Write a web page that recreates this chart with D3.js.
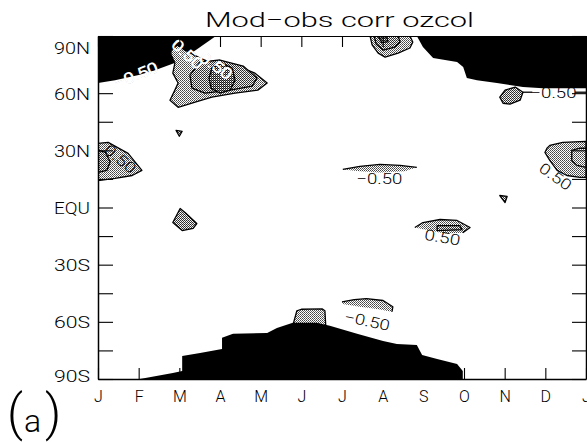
<!DOCTYPE html>
<html><head><meta charset="utf-8">
<script src="https://cdn.jsdelivr.net/npm/d3@7"></script>
<style>
body{margin:0;background:#fff}
svg{display:block}
text{font-family:Roboto,"Liberation Sans",Arial,sans-serif;font-weight:300;fill:#000}
</style>
</head><body>
<svg id="c" width="587" height="442"></svg>
<script>
// ---------- data ----------
const months = ["J","F","M","A","M","J","J","A","S","O","N","D","J"];
const monthTicks = [0,1,2,3,4,5,6,7,8,9,10,11,12];
const latMajor = [90,60,30,0,-30,-60,-90];
const latLabels = ["90N","60N","30N","EQU","30S","60S","90S"];
const latMinor = [75,45,15,-15,-45,-75];
const titleText = "Mod\u2212obs corr ozcol";
const panelText = ["(","a",")"];

// missing-data masks [month, latitude]
const maskNorthWest = [[0,90],[0,65.3],[0.42,66.8],[1.0,69.5],[1.4,72],[1.9,76],[2.4,82.5],[2.9,90]];
const maskNorthEast = [[7.84,90],[7.99,84.2],[8.24,78.4],[8.83,76.3],[8.98,73.7],[9.07,67.9],[9.32,66.8],[9.81,65.3],[10.45,63.2],[10.94,62.6],[12,62.6],[12,90]];
const maskSouth = [[1.03,-90],[1.84,-86.8],[2.07,-85.8],[2.07,-77.9],[2.51,-76.3],[3.05,-74.2],[3.05,-68.4],[3.32,-66.3],[4.16,-65.8],[4.40,-63.2],[4.79,-60.5],[5.38,-60.5],[5.70,-62.1],[6.37,-66.3],[7.01,-70],[7.35,-71.6],[7.84,-72.1],[7.97,-77.4],[8.34,-79.5],[8.83,-82.1],[8.97,-85.8],[8.97,-90]];

// correlation contour regions (|r| >= 0.5, then higher levels)
const marchNorthOuter = [[1.80,82.5],[1.94,85.3],[2.14,82.6],[2.51,78.4],[2.80,75.8],[3.37,74.7],[3.86,70.5],[4.16,65.3],[3.93,61.6],[3.37,60],[2.80,57.9],[2.39,55.3],[1.97,52.6],[1.77,56.3],[1.89,61.6],[1.97,65.3],[1.84,70.5],[1.89,75.8],[1.79,80.5]];
const marchNorthMid = [[2.51,76.3],[3.00,77.4],[3.57,74.2],[3.91,67.9],[3.79,63.7],[3.25,61.6],[2.63,60],[2.31,62.6],[2.26,69.5]];
const marchNorthInner = [[2.80,73.2],[3.05,75.8],[3.30,73.2],[3.37,66.8],[3.25,61.6],[3.00,60],[2.78,62.6],[2.73,67.9]];
const julyPoleOuter = [[6.69,90],[6.74,85.3],[6.89,81],[7.06,78.9],[7.38,81],[7.67,83.7],[7.74,86.8],[7.67,90]];
const julyPoleMid = [[6.79,90],[6.84,85.8],[7.01,82.6],[7.3,84.2],[7.43,86.8],[7.38,90]];
const julyPoleInner = [[6.9,89.5],[6.98,86.5],[7.13,87],[7.1,89.5]];
const novNorth = [[9.88,57.9],[10.01,61.6],[10.26,63.2],[10.45,60.5],[10.38,56.3],[10.13,54.2],[9.96,54.7]];
const janSubtropOuter = [[0,33.7],[0.25,34.2],[0.74,28.4],[1.08,19.5],[0.84,16.8],[0.42,15.3],[0.05,14.2],[0,14.2]];
const janSubtropInner = [[0,30],[0.18,29],[0.3,24],[0.22,19.5],[0,18.4]];
const decSubtropOuter = [[11.04,31.1],[11.11,32.6],[11.43,34.2],[12,34.7],[12,15.8],[11.85,15.8],[11.53,16.8],[11.29,19.5],[11.11,24.7],[10.99,28.9]];
const decSubtropInner = [[11.65,30],[11.85,31.1],[12,31.1],[12,21.1],[11.78,22.1],[11.65,24.7]];
const julySubtrop = [[6.02,20],[6.44,21.6],[6.93,22.6],[7.43,22.1],[7.84,21.1],[7.55,19],[6.93,18.4],[6.44,19]];
const septTropOuter = [[7.79,-10.5],[7.99,-7.9],[8.41,-6.3],[8.83,-6.8],[9.15,-10.5],[8.97,-13.2],[8.53,-13.7],[8.16,-12.1]];
const septTropInner = [[8.34,-9.5],[8.9,-9.5],[8.95,-11.6],[8.34,-12.1]];
const marchTrop = [[1.84,-7.9],[2.02,-0.5],[2.14,-2.6],[2.43,-8.4],[2.34,-11],[2.07,-12.1]];
const marchSmall = [[1.92,40.5],[2.07,40],[2.0,37.4]];
const novSmall = [[9.88,6.3],[10.06,5.8],[10.01,2.6]];
const juneSouth = [[4.79,-62],[4.89,-54.2],[5.0,-53.4],[5.51,-53.2],[5.58,-54.2],[5.6,-62]];
const augSouth = [[6.0,-49.5],[6.3,-48.3],[6.6,-47.8],[7.01,-48.8],[7.25,-52.1],[7.23,-54.7],[6.86,-53.2],[6.44,-52.1],[6.02,-50.6]];

// contour labels: text, month, latitude, angle
const labelText  = ["\u22120.50","0.50","0.50","\u22120.50","0.50","0.50","\u22120.50","0.50","\u22120.50"];
const labelMonth = [0.93, 2.2, 2.9, 11.2, 0.55, 11.25, 6.92, 8.47, 6.62];
const labelLat   = [69.5, 80.5, 74.5, 60.4, 25.5, 16.3, 15.0, -15.6, -59.5];
const labelAngle = [-22, 42, 35, 0, 40, 35, 0, 10, 12];
const labelHalo  = [true, true, true, false, false, false, false, false, false];

// ---------- chart ----------
const L = 98, R = 586, T = 36, B = 379;
const svg = d3.select("#c");
const x = d3.scaleLinear().domain([0,12]).range([L,R]);
const y = d3.scaleLinear().domain([-90,90]).range([B,T]);

const defs = svg.append("defs");
defs.append("clipPath").attr("id","plot").append("rect")
  .attr("x",L).attr("y",T).attr("width",R-L).attr("height",B-T);
function pattern(id, cells){
  const p = defs.append("pattern").attr("id",id).attr("width",2).attr("height",2)
    .attr("patternUnits","userSpaceOnUse");
  p.append("rect").attr("width",2).attr("height",2).attr("fill","#fff");
  cells.forEach(c=>p.append("rect").attr("x",c[0]).attr("y",c[1]).attr("width",1).attr("height",1).attr("fill",c[2])
    .attr("shape-rendering","crispEdges"));
}
pattern("s1", [[0,0,"#444"],[1,1,"#666"]]);
pattern("s2", [[0,0,"#2a2a2a"],[1,1,"#3a3a3a"],[1,0,"#ddd"]]);
pattern("s3", [[0,0,"#111"],[1,1,"#222"],[1,0,"#777"]]);

const closed = d3.line().x(d=>x(d[0])).y(d=>y(d[1])).curve(d3.curveLinearClosed);
const open = d3.line().x(d=>x(d[0])).y(d=>y(d[1]));

const plot = svg.append("g").attr("clip-path","url(#plot)");

function region(pts, fill, outline){
  plot.append("path").attr("d",closed(pts)).attr("fill",fill).attr("stroke","none");
  if (outline === "closed")
    plot.append("path").attr("d",closed(pts)).attr("fill","none").attr("stroke","#000").attr("stroke-width",1.3).attr("stroke-linejoin","round");
  else if (typeof outline === "number")
    plot.append("path").attr("d",open(pts.slice(0,outline))).attr("fill","none").attr("stroke","#000").attr("stroke-width",1.3).attr("stroke-linejoin","round");
}

// southern regions under the mask
region(juneSouth,"url(#s1)",6);
region(augSouth,"url(#s1)",6);

// masks
[maskNorthWest, maskNorthEast, maskSouth].forEach(m=>{
  plot.append("path").attr("d",closed(m)).attr("fill","#000");
});

// regions
region(marchNorthOuter,"url(#s1)","closed");
region(marchNorthMid,"url(#s2)","closed");
region(marchNorthInner,"url(#s3)","closed");
region(julyPoleOuter,"url(#s1)","closed");
region(julyPoleMid,"url(#s2)","closed");
region(julyPoleInner,"url(#s3)","closed");
region(novNorth,"url(#s2)","closed");
region(janSubtropOuter,"url(#s1)","closed");
region(janSubtropInner,"url(#s2)","closed");
region(decSubtropOuter,"url(#s1)","closed");
region(decSubtropInner,"url(#s1)","closed");
region(julySubtrop,"url(#s1)",5);
region(septTropOuter,"url(#s1)",6);
region(septTropInner,"url(#s2)","closed");
region(marchTrop,"url(#s2)","closed");
region(marchSmall,"url(#s2)","closed");
region(novSmall,"url(#s2)","closed");

// connector lines of the Nov label
plot.append("path").attr("d",open([[10.45,60.5],[10.68,60.5]])).attr("stroke","#000").attr("stroke-width",1.3).attr("fill","none");
plot.append("path").attr("d",open([[11.73,60.5],[12,60.5]])).attr("stroke","#000").attr("stroke-width",1.3).attr("fill","none");

// contour labels
labelText.forEach((t,i)=>{
  const tx = plot.append("text")
    .attr("transform",`translate(${x(labelMonth[i])},${y(labelLat[i])}) rotate(${labelAngle[i]})`)
    .attr("text-anchor","middle").attr("dy","0.36em")
    .attr("font-size",15)
    .attr("textLength", t.length===5?46:36).attr("lengthAdjust","spacingAndGlyphs")
    .text(t);
  if (labelHalo[i]) tx.attr("stroke","#fff").attr("stroke-width",0.9);
});

// axes
const fontStack = "Roboto, Liberation Sans, Arial, sans-serif";
const axisStyle = g => {
  g.selectAll("path.domain").attr("stroke","#000").attr("stroke-width",1.5);
  g.selectAll(".tick line").attr("stroke","#000").attr("stroke-width",1.1);
  g.selectAll("text").attr("font-family",fontStack).attr("font-weight",300).attr("fill","#000");
};
const latAll = latMajor.concat(latMinor).sort((a,b)=>b-a);

svg.append("g").attr("transform",`translate(${L},0)`)
  .call(d3.axisLeft(y).tickValues(latAll).tickSizeInner(-15).tickSizeOuter(0).tickPadding(8)
    .tickFormat(v=>{const k=latMajor.indexOf(v); return k>=0?latLabels[k]:"";}))
  .call(axisStyle)
  .call(g=>g.selectAll("text").attr("font-size",17).attr("textLength",36).attr("lengthAdjust","spacingAndGlyphs")
    .attr("dy",v=> v===90 ? "1.0em" : v===-90 ? "0.15em" : "0.35em"));

svg.append("g").attr("transform",`translate(${R},0)`)
  .call(d3.axisRight(y).tickValues(latAll).tickSizeInner(-14).tickSizeOuter(0).tickFormat(""))
  .call(axisStyle);

svg.append("g").attr("transform",`translate(0,${B})`)
  .call(d3.axisBottom(x).tickValues(monthTicks).tickSizeInner(-11).tickSizeOuter(0).tickPadding(12)
    .tickFormat((v,i)=>months[i]))
  .call(axisStyle)
  .call(g=>g.selectAll("text").attr("font-size",16));

svg.append("g").attr("transform",`translate(0,${T})`)
  .call(d3.axisTop(x).tickValues(monthTicks).tickSizeInner(-11).tickSizeOuter(0).tickFormat(""))
  .call(axisStyle)
  .call(g=>g.select("path.domain").attr("stroke-width",1.2));

// title
svg.append("text").attr("x",205).attr("y",27).attr("font-size",21)
  .attr("textLength",269).attr("lengthAdjust","spacingAndGlyphs").text(titleText);

// panel label
const pl = svg.append("text").attr("y",430);
pl.append("tspan").attr("x",7).attr("font-size",50).text(panelText[0]);
pl.append("tspan").attr("x",24).attr("y",432).attr("font-size",32).text(panelText[1]);
pl.append("tspan").attr("x",45).attr("y",430).attr("font-size",50).text(panelText[2]);
</script>
</body></html>
